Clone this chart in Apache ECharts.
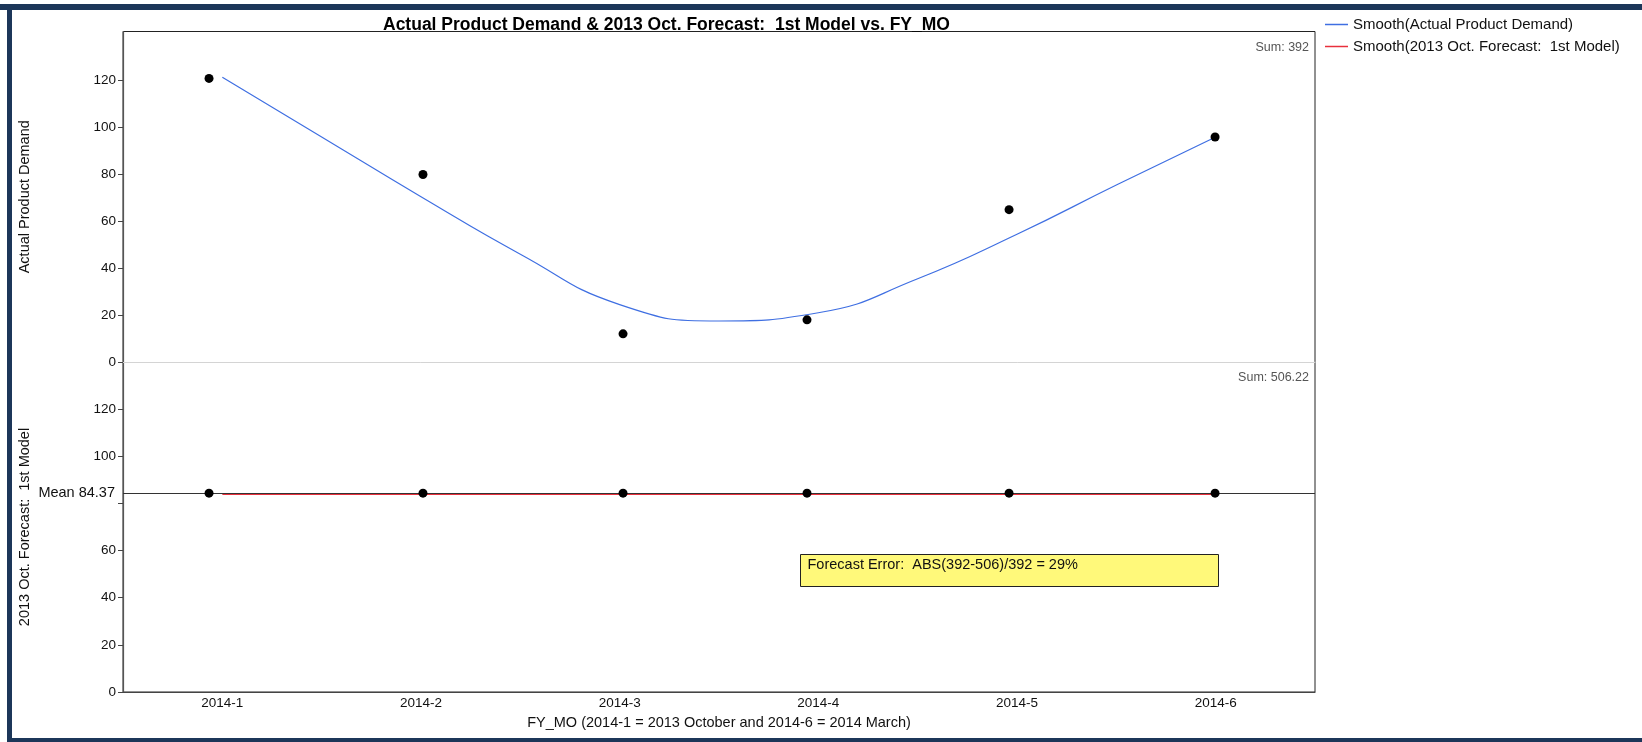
<!DOCTYPE html>
<html>
<head>
<meta charset="utf-8">
<script src="https://cdn.jsdelivr.net/npm/echarts@6/dist/echarts.min.js"></script>
<style>
  html, body { margin: 0; padding: 0; background: #fff; }
  #chart { width: 1642px; height: 742px; }
</style>
</head>
<body>
<div id="chart"></div>
<script>
// data
const months = ['2014-1', '2014-2', '2014-3', '2014-4', '2014-5', '2014-6'];
const actualDemand = [121, 80, 12, 18, 65, 96];
const forecast1st = [84.37, 84.37, 84.37, 84.37, 84.37, 84.37];
// points are jittered a little around their month (in month units)
const pointX = [0.933, 2.01, 3.017, 3.943, 4.96, 5.997];
// smoother curves as drawn
const smoothX = [1, 1.5, 2, 2.5, 3, 3.5, 4, 4.5, 5, 5.5, 6];
const smoothActual = [121.5, 96, 70.5, 46, 24.5, 17.5, 21, 35.5, 54.5, 75.5, 96];
const smoothForecastX = [1, 2, 3, 4, 5, 6];
const smoothForecast = [83.9, 83.9, 83.9, 83.9, 83.9, 83.9];
const topTicks = [0, 20, 40, 60, 80, 100, 120];
const bottomTicks = [0, 20, 40, 60, 80, 100, 120];
const bottomLabels = [0, 20, 40, 60, 100, 120];

const sumActual = actualDemand.reduce((a, b) => a + b, 0);
const sumForecast = forecast1st.reduce((a, b) => a + b, 0);
const meanForecast = sumForecast / forecast1st.length;
const errPct = Math.round(Math.abs(sumActual - Math.round(sumForecast)) / sumActual * 100);

const FONT = '"Liberation Sans", Arial, sans-serif';
const L = 123, R = 1315, T = 31.5, MID = 362, B = 692;

const chart = echarts.init(document.getElementById('chart'));

const yBase = {
  type: 'value', min: 0,
  axisLine: { show: true, lineStyle: { color: '#555', width: 1.2 } },
  axisTick: { show: true, length: 5, lineStyle: { color: '#444' } },
  splitLine: { show: false },
  nameLocation: 'middle', nameRotate: 90, nameGap: 91,
  nameTextStyle: { color: '#111', fontSize: 14.5, fontFamily: FONT }
};

chart.setOption({
  animation: false,
  backgroundColor: '#fff',
  textStyle: { fontFamily: FONT },
  title: {
    text: 'Actual Product Demand & 2013 Oct. Forecast:  1st Model vs. FY_MO',
    left: 378, top: 11,
    textStyle: { fontSize: 17.5, fontWeight: 'bold', color: '#000', fontFamily: FONT }
  },
  legend: {
    orient: 'vertical', left: 1320, top: 12, itemGap: 7,
    itemWidth: 23, itemHeight: 1.5, icon: 'rect',
    textStyle: { fontSize: 15, color: '#111', fontFamily: FONT },
    data: ['Smooth(Actual Product Demand)', 'Smooth(2013 Oct. Forecast:  1st Model)']
  },
  grid: [
    { left: L, width: R - L, top: T, height: MID - T },
    { left: L, width: R - L, top: MID, height: B - MID }
  ],
  xAxis: [
    { type: 'category', gridIndex: 0, data: months, boundaryGap: true,
      axisLine: { lineStyle: { color: '#d4d4d4' } }, axisTick: { show: false }, axisLabel: { show: false } },
    { type: 'value', gridIndex: 0, min: 0.5, max: 6.5, show: false },
    { type: 'category', gridIndex: 1, data: months, boundaryGap: true,
      axisLine: { lineStyle: { color: '#444', width: 1.2 } }, axisTick: { show: false },
      axisLabel: { color: '#111', fontSize: 13.5, margin: 4, fontFamily: FONT },
      name: 'FY_MO (2014-1 = 2013 October and 2014-6 = 2014 March)',
      nameLocation: 'middle', nameGap: 23,
      nameTextStyle: { color: '#111', fontSize: 14.5, fontFamily: FONT } },
    { type: 'value', gridIndex: 1, min: 0.5, max: 6.5, show: false }
  ],
  yAxis: [
    Object.assign({}, yBase, {
      gridIndex: 0, max: 141, name: 'Actual Product Demand',
      axisTick: Object.assign({}, yBase.axisTick, { customValues: topTicks }),
      axisLabel: { customValues: topTicks, color: '#111', fontSize: 13.5, margin: 7, fontFamily: FONT }
    }),
    Object.assign({}, yBase, {
      gridIndex: 1, max: 140, name: '2013 Oct. Forecast:  1st Model',
      axisTick: Object.assign({}, yBase.axisTick, { customValues: bottomTicks }),
      axisLabel: { customValues: bottomLabels, color: '#111', fontSize: 13.5, margin: 7, fontFamily: FONT }
    })
  ],
  series: [
    {
      name: 'Smooth(Actual Product Demand)', type: 'line', xAxisIndex: 1, yAxisIndex: 0,
      data: smoothX.map((x, i) => [x, smoothActual[i]]),
      smooth: 0.5, showSymbol: false, color: '#3f6fe2',
      lineStyle: { color: '#3f6fe2', width: 1.2 }, z: 2
    },
    {
      type: 'scatter', xAxisIndex: 1, yAxisIndex: 0,
      data: pointX.map((x, i) => [x, actualDemand[i]]),
      symbolSize: 9, itemStyle: { color: '#000', opacity: 1 }, z: 3
    },
    {
      name: 'Smooth(2013 Oct. Forecast:  1st Model)', type: 'line', xAxisIndex: 3, yAxisIndex: 1,
      data: smoothForecastX.map((x, i) => [x, smoothForecast[i]]),
      smooth: 0.4, showSymbol: false, color: '#e8303c',
      lineStyle: { color: '#e8303c', width: 1.5 }, z: 2
    },
    {
      type: 'scatter', xAxisIndex: 3, yAxisIndex: 1,
      data: pointX.map((x, i) => [x, forecast1st[i]]),
      symbolSize: 9, itemStyle: { color: '#000', opacity: 1 }, z: 4,
      markLine: {
        silent: true, symbol: 'none', z: 3,
        lineStyle: { color: '#333', width: 1.2, type: 'solid' },
        label: { position: 'start', distance: 8, formatter: 'Mean ' + meanForecast.toFixed(2),
                 color: '#111', fontSize: 14.5, fontFamily: FONT },
        data: [{ yAxis: meanForecast }]
      }
    }
  ],
  graphic: [
    // navy page frame
    { type: 'rect', shape: { x: 0, y: 4, width: 1642, height: 6 }, style: { fill: '#1c3659' }, silent: true },
    { type: 'rect', shape: { x: 7, y: 4, width: 5, height: 738 }, style: { fill: '#1c3659' }, silent: true },
    { type: 'rect', shape: { x: 7, y: 738, width: 1635, height: 4 }, style: { fill: '#1c3659' }, silent: true },
    // plot frame
    { type: 'rect', shape: { x: L, y: T, width: R - L, height: B - T },
      style: { fill: 'none', stroke: '#222', lineWidth: 1 }, silent: true, z: -1 },
    { type: 'text', right: 1642 - 1309, top: 41,
      style: { text: 'Sum: ' + sumActual, fill: '#555', font: '12.5px ' + FONT } },
    { type: 'text', right: 1642 - 1309, top: 371,
      style: { text: 'Sum: ' + sumForecast.toFixed(2), fill: '#555', font: '12.5px ' + FONT } },
    { type: 'group', left: 800, top: 554, children: [
      { type: 'rect', shape: { x: 0, y: 0, width: 418, height: 32 },
        style: { fill: '#fff97a', stroke: '#222', lineWidth: 1 } },
      { type: 'text', x: 7, y: 3,
        style: { text: 'Forecast Error:  ABS(' + sumActual + '-' + Math.round(sumForecast) + ')/' + sumActual + ' = ' + errPct + '%',
                 fill: '#111', font: '14.5px ' + FONT } }
    ] }
  ]
});
</script>
</body>
</html>
